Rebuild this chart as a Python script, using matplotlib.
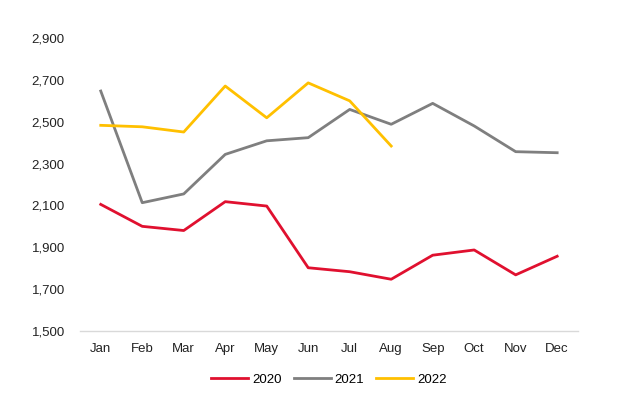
import matplotlib
matplotlib.use("Agg")
import matplotlib.pyplot as plt
from matplotlib import font_manager

months = ["Jan", "Feb", "Mar", "Apr", "May", "Jun", "Jul", "Aug", "Sep", "Oct", "Nov", "Dec"]
v2020 = [2105, 2000, 1980, 2118, 2097, 1802, 1783, 1747, 1862, 1887, 1768, 1857]
v2021 = [2647, 2113, 2155, 2344, 2409, 2424, 2559, 2488, 2588, 2480, 2357, 2352]
v2022 = [2483, 2476, 2451, 2671, 2519, 2686, 2600, 2384]
yticks = [1500, 1700, 1900, 2100, 2300, 2500, 2700, 2900]

names = {f.name for f in font_manager.fontManager.ttflist}
fam = "Liberation Sans Narrow" if "Liberation Sans Narrow" in names else "Liberation Sans"
plt.rcParams["font.family"] = [fam, "DejaVu Sans"]

fig = plt.figure(figsize=(6.4, 3.93), dpi=100)
ax = fig.add_axes([0.125, 0.158, 0.778, 0.745])

x = list(range(len(months)))
ax.plot(x, v2020, color="#E0102F", lw=2.0, label="2020")
ax.plot(x, v2021, color="#7F7F7F", lw=2.0, label="2021")
ax.plot(x[:len(v2022)], v2022, color="#FFC000", lw=2.0, label="2022")

ax.set_xlim(-0.5, 11.5)
ax.set_ylim(1500, 2900)
ax.set_yticks(yticks)
ax.set_yticklabels([f"{v:,}" for v in yticks], fontsize=9.5, color="#222222")
ax.set_xticks(x)
ax.set_xticklabels(months, fontsize=9.5, color="#222222")
ax.tick_params(length=0)
ax.tick_params(axis="y", pad=11)
ax.tick_params(axis="x", pad=9)
for s in ["top", "right", "left"]:
    ax.spines[s].set_visible(False)
ax.spines["bottom"].set_color("#D9D9D9")
ax.spines["bottom"].set_linewidth(1.0)

ax.legend(loc="upper center", bbox_to_anchor=(0.5, -0.105), ncol=3, frameon=False,
          fontsize=9.5, handlelength=2.8, handletextpad=0.3, columnspacing=0.9)

fig.savefig("out.png", dpi=100)
